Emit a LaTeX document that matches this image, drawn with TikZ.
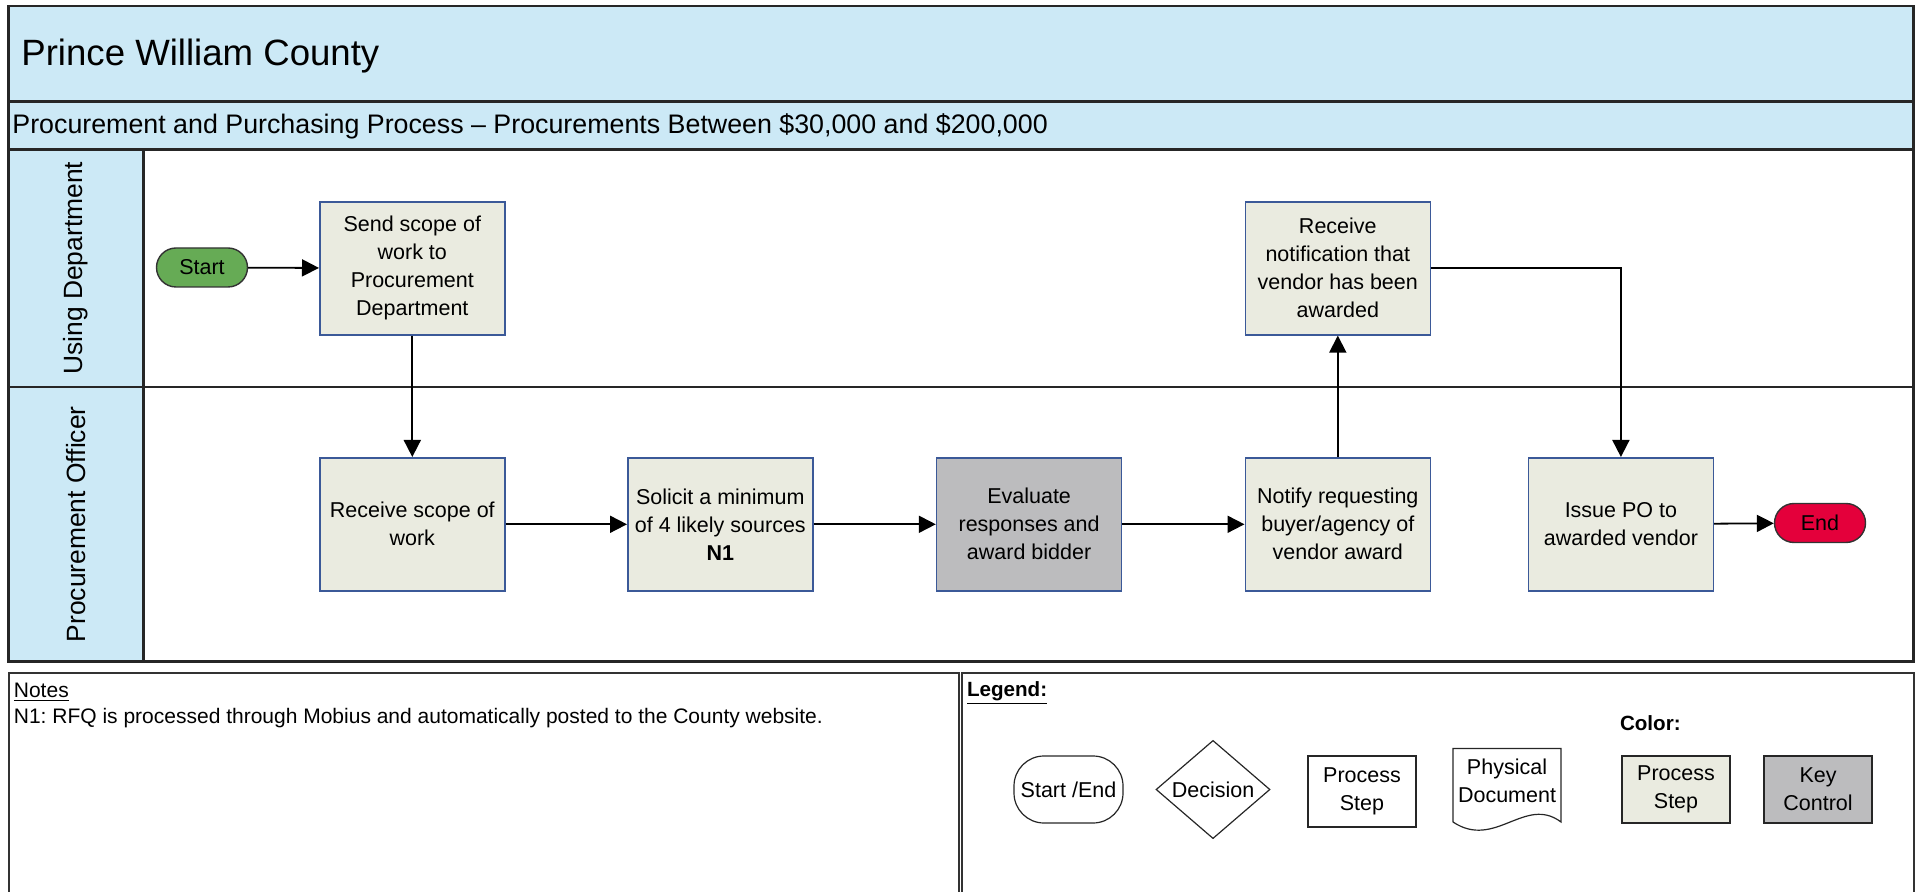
\documentclass[tikz,border=0pt]{standalone}
\usepackage{fontspec}
\setmainfont{Liberation Sans}
\usetikzlibrary{arrows.meta,shapes.geometric,shapes.misc}
\definecolor{band}{HTML}{CCE9F6}
\definecolor{stepfill}{HTML}{EAEBE0}
\definecolor{keyfill}{HTML}{BCBCBE}
\definecolor{stepline}{HTML}{3B5998}
\definecolor{startgreen}{HTML}{66AB55}
\definecolor{endred}{HTML}{E4003B}
\frenchspacing
\begin{document}
\begin{tikzpicture}[x=0.5pt,y=-0.5pt,
  font=\fontsize{10.75}{14}\selectfont,
  frame/.style={line width=1.3pt, draw=black!85},
  procbox/.style={draw=stepline, line width=0.8pt, fill=stepfill, minimum width=92.5pt, minimum height=66.5pt, align=center, inner sep=0pt},
  keybox/.style={procbox, fill=keyfill},
  terminal/.style={rounded rectangle, draw=black!80, line width=0.7pt, minimum width=45.5pt, minimum height=19.5pt, inner sep=0pt},
  flow/.style={-{Triangle[length=8.5pt,width=8.5pt]}, line width=0.9pt},
  lanelabel/.style={rotate=90, font=\fontsize{13.2}{16}\selectfont, inner sep=0pt},
  panel/.style={draw=black!80, line width=1.1pt},
  legshape/.style={draw=black!85, line width=0.6pt, align=center, inner sep=0pt},
  plain/.style={inner sep=0pt, anchor=west}
]
\useasboundingbox (0,0) rectangle (1921,892);
\clip (0,0) rectangle (1921,892);
% swimlane frame
\fill[band] (8.6,6) rectangle (1913.6,149.5);
\fill[band] (8.6,149.5) rectangle (143.3,661.5);
\draw[frame] (8.6,101.7) -- (1913.6,101.7);
\draw[frame] (8.6,149.5) -- (1913.6,149.5);
\draw[frame] (8.6,387.1) -- (1913.6,387.1);
\draw[frame] (143.3,149.5) -- (143.3,661.5);
\draw[frame] (8.6,6) rectangle (1913.6,661.5);
\node[plain, font=\fontsize{18.3}{22}\selectfont] (title) at (21,56) {Prince William County};
\node[plain, font=\fontsize{13.4}{16}\selectfont] (subtitle) at (12,126) {Procurement and Purchasing Process – Procurements Between \$30,000 and \$200,000};
\node[lanelabel] (lane1) at (76,268.3) {Using Department};
\node[lanelabel] (lane2) at (76,524.3) {Procurement Officer};
% flow nodes
\node[terminal, fill=startgreen] (start) at (202,267.5) {Start};
\node[procbox] (send) at (412.3,268.3) {Send scope of\\work to\\Procurement\\Department};
\node[procbox] (notif) at (1337.8,268.3) {Receive\\notification that\\vendor has been\\awarded};
\node[procbox] (recv) at (412.3,524.3) {Receive scope of\\work};
\node[procbox] (solicit) at (720.3,524.3) {Solicit a minimum\\of 4 likely sources\\\textbf{N1}};
\node[keybox] (eval) at (1029.1,524.3) {Evaluate\\responses and\\award bidder};
\node[procbox] (notify) at (1337.8,524.3) {Notify requesting\\buyer/agency of\\vendor award};
\node[procbox] (issue) at (1620.9,524.3) {Issue PO to\\awarded vendor};
\node[terminal, fill=endred] (endn) at (1820,523) {End};
% connectors
\draw[flow] (start) -- (send);
\draw[flow] (send) -- (recv);
\draw[flow] (recv) -- (solicit);
\draw[flow] (solicit) -- (eval);
\draw[flow] (eval) -- (notify);
\draw[flow] (notify) -- (notif);
\draw[flow] (notif.east) -| (issue.north);
\draw[flow] (issue) -- (endn);
% notes and legend panels
\draw[panel] (8.6,672.6) rectangle (959.2,900);
\draw[panel] (961.7,672.6) rectangle (1913.6,900);
\node[plain, font=\fontsize{10.5}{13}\selectfont] (notestitle) at (13.5,692) {\underline{Notes}};
\node[plain, font=\fontsize{10.5}{13}\selectfont] (note1) at (13.5,718) {N1: RFQ is processed through Mobius and automatically posted to the County website.};
\node[plain, font=\bfseries\fontsize{10.3}{13}\selectfont] (legendtitle) at (966.6,693.4) {\underline{Legend:}};
\node[plain, font=\bfseries\fontsize{10.3}{13}\selectfont] (colortitle) at (1619.6,723) {Color:};
% legend shapes
\node[legshape, rounded corners=15pt, minimum width=54.5pt, minimum height=33.5pt] (lgterm) at (1068.5,789.5) {Start /End};
\node[legshape, diamond, minimum width=57pt, minimum height=41pt] (lgdec) at (1213,789.5) {Decision};
\node[legshape, minimum width=54pt, minimum height=35.5pt] (lgproc) at (1362,791.5) {Process\\Step};
\draw[draw=black!85, line width=0.6pt] (1453,822) -- (1453,748.5) -- (1561,748.5) -- (1561,822)
  .. controls (1525,795) and (1495,850) .. (1453,822);
\node[inner sep=0pt, align=center] (lgdoc) at (1507,781) {Physical\\Document};
\node[legshape, fill=stepfill, minimum width=54pt, minimum height=33.5pt] (lgstep) at (1676,789.5) {Process\\Step};
\node[legshape, fill=keyfill, minimum width=54pt, minimum height=33.5pt] (lgkey) at (1818,789.5) {Key\\Control};
\end{tikzpicture}
\end{document}
